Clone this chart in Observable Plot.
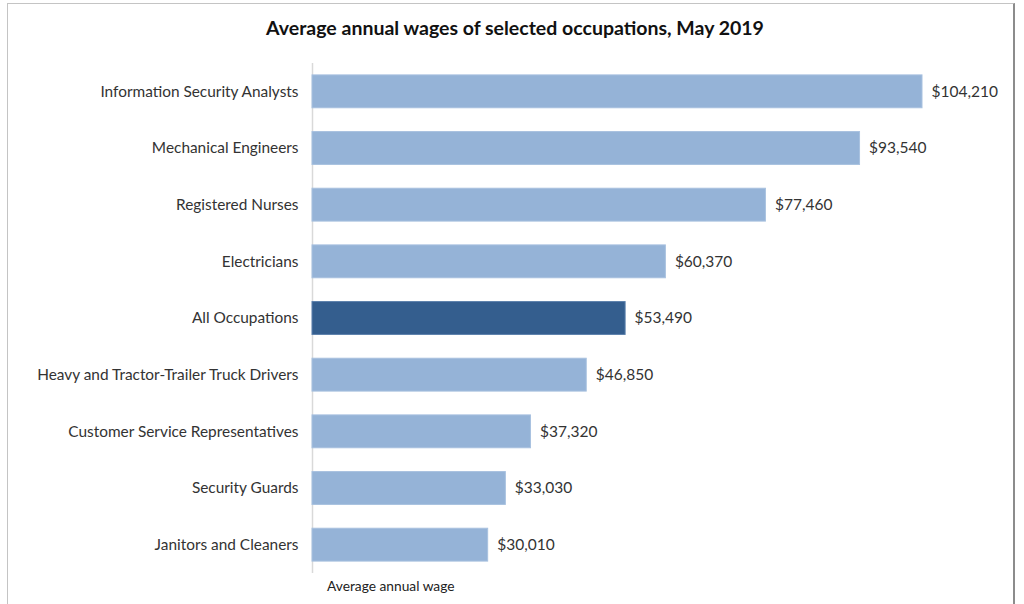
<!DOCTYPE html>
<html><head><meta charset="utf-8">
<script src="https://cdn.jsdelivr.net/npm/d3@7"></script>
<script src="https://cdn.jsdelivr.net/npm/@observablehq/plot@0.6"></script>
<style>
body{margin:0;background:#fff;}
#wrap{position:relative;width:1024px;height:604px;overflow:hidden;font-family:Lato, "Open Sans", sans-serif;}
#frame{position:absolute;left:7px;top:3px;width:1008px;height:640px;border-left:1px solid #c4c4c4;border-top:1px solid #c4c4c4;border-right:2px solid #8c8c8c;box-sizing:border-box;}
#title{position:absolute;top:16px;left:3px;width:1024px;text-align:center;font-weight:bold;font-size:19.5px;color:#111;}
#xlabel{position:absolute;left:327px;top:577px;font-size:13.75px;color:#222;}
#chart{position:absolute;left:0;top:0;}
</style></head>
<body>
<div id="wrap">
  <div id="frame"></div>
  <div id="chart"></div>
  <div id="title">Average annual wages of selected occupations, May 2019</div>
  <div id="xlabel">Average annual wage</div>
</div>
<script>
const occupations = [
  "Information Security Analysts",
  "Mechanical Engineers",
  "Registered Nurses",
  "Electricians",
  "All Occupations",
  "Heavy and Tractor-Trailer Truck Drivers",
  "Customer Service Representatives",
  "Security Guards",
  "Janitors and Cleaners"
];
const wages = [104210, 93540, 77460, 60370, 53490, 46850, 37320, 33030, 30010];
const highlight = "All Occupations";

const data = occupations.map((o, i) => ({occupation: o, wage: wages[i]}));
const fmt = d3.format(",");

const chart = Plot.plot({
  width: 1024,
  height: 604,
  marginTop: 63,
  marginBottom: 31,
  marginLeft: 312,
  marginRight: 102,
  x: {domain: [0, d3.max(wages)], axis: null},
  y: {domain: occupations, paddingInner: 0.42, paddingOuter: 0.21, round: false, label: null, tickSize: 0, tickPadding: 14},
  style: {fontFamily: "Lato, 'Open Sans', sans-serif", fontSize: "15.4px", color: "#333", background: "transparent"},
  marks: [
    Plot.ruleX([0], {stroke: "#d9d9d9", strokeWidth: 1.5}),
    Plot.barX(data.filter(d => d.occupation !== highlight), {y: "occupation", x: "wage", fill: "#95B3D7", stroke: "#a8c1df", strokeWidth: 1}),
    Plot.barX(data.filter(d => d.occupation === highlight), {y: "occupation", x: "wage", fill: "#345E8E", stroke: "#5a7fab", strokeWidth: 1}),
    Plot.text(data, {y: "occupation", x: "wage", text: d => "$" + fmt(d.wage), dx: 9, textAnchor: "start", fill: "#333", fontSize: 15.5})
  ]
});
document.getElementById("chart").appendChild(chart);
</script>
</body></html>
